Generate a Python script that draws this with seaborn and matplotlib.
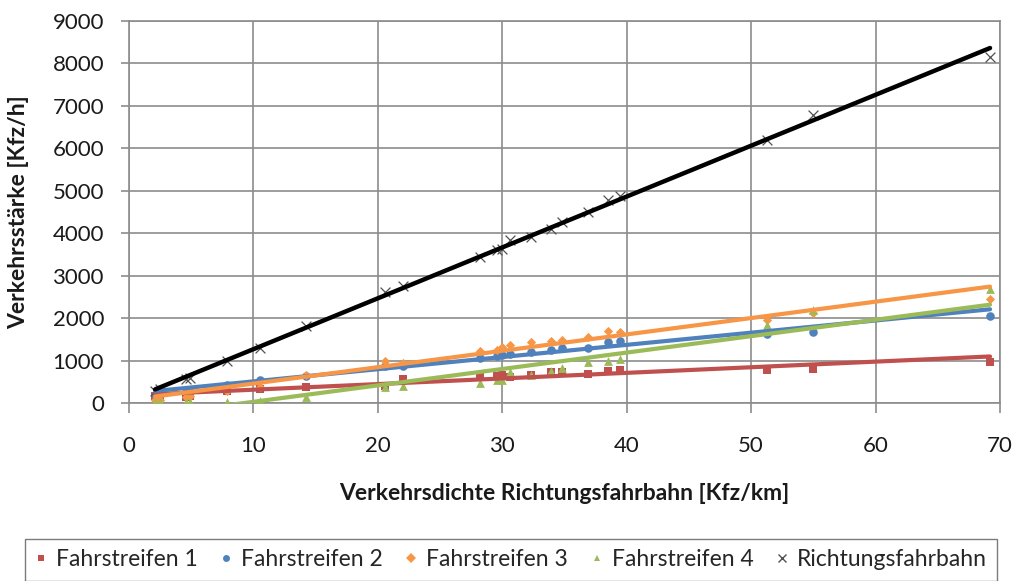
import numpy as np
import pandas as pd
import seaborn as sns
import matplotlib.pyplot as plt
from matplotlib.lines import Line2D

# Traffic density of the carriageway [Kfz/km]
dichte = [2.1, 2.5, 4.6, 4.9, 7.9, 10.5, 14.2, 20.6, 22.0, 28.2, 29.6,
          30.0, 30.6, 32.3, 33.9, 34.8, 36.9, 38.5, 39.5, 51.3, 55.0, 69.2]

# Traffic flow per lane and for the whole carriageway [Kfz/h]
fahrstreifen_1 = [157, 140, 150, 160, 275, 330, 377, 392, 560, 604, 644,
                  667, 604, 667, 722, 722, 683, 746, 768, 785, 801, 957]
fahrstreifen_2 = [196, 219, 270, 290, 431, 540, 640, 879, 870, 1060, 1099,
                  1138, 1154, 1201, 1256, 1296, 1296, 1428, 1452, 1633, 1680, 2057]
fahrstreifen_3 = [60, 80, 150, 172, 275, 380, 660, 980, 942, 1232, 1256,
                  1319, 1374, 1437, 1452, 1491, 1546, 1687, 1672, 1964, 2125, 2450]
fahrstreifen_4 = [16, 16, 16, 16, 16, 40, 149, 377, 392, 471, 550,
                  550, 730, 667, 760, 824, 958, 980, 1036, 1846, 2184, 2686]
richtungsfahrbahn = [290, 340, 570, 600, 980, 1300, 1805, 2606, 2764, 3450, 3596,
                     3628, 3848, 3911, 4099, 4256, 4492, 4791, 4870, 6204, 6793, 8144]

serien = ["Fahrstreifen 1", "Fahrstreifen 2", "Fahrstreifen 3",
          "Fahrstreifen 4", "Richtungsfahrbahn"]
werte = [fahrstreifen_1, fahrstreifen_2, fahrstreifen_3, fahrstreifen_4,
         richtungsfahrbahn]

x_ticks = [0, 10, 20, 30, 40, 50, 60, 70]
y_ticks = [0, 1000, 2000, 3000, 4000, 5000, 6000, 7000, 8000, 9000]

sns.set_theme(style="white")
plt.rcParams["font.family"] = ["Lato", "DejaVu Sans"]

# marker colour, line colour, marker, marker area, line width
stile = {
    "Fahrstreifen 1": ("#C0504D", "#C0504D", "s", 34, 3.0),
    "Fahrstreifen 2": ("#4F81BD", "#4F81BD", "o", 38, 3.0),
    "Fahrstreifen 3": ("#F79646", "#F79646", "D", 22, 3.0),
    "Fahrstreifen 4": ("#9BBB59", "#9BBB59", "^", 40, 3.0),
    "Richtungsfahrbahn": ("#505050", "#000000", "x", 50, 3.2),
}

df = pd.DataFrame({"dichte": dichte})
for name, w in zip(serien, werte):
    df[name] = w

fig = plt.figure(figsize=(10.16, 5.81), dpi=100)
ax = fig.add_axes([129 / 1016, 1 - 403 / 581, 871 / 1016, 382 / 581])

for name in serien:
    mc, lc, m, s, lw = stile[name]
    kws = dict(color=mc, s=s, zorder=3, alpha=1.0,
               linewidths=0.9 if m == "x" else 0)
    sns.regplot(data=df, x="dichte", y=name, ax=ax, ci=None, marker=m,
                scatter_kws=kws,
                line_kws=dict(color=lc, lw=lw, zorder=4))

ax.set_xlim(0, 70)
ax.set_ylim(0, 9000)
ax.set_xticks(x_ticks)
ax.set_yticks(y_ticks)
ax.grid(True, color="#8C8C8C", lw=1.2)
ax.set_axisbelow(True)
for sp in ax.spines.values():
    sp.set_color("#8C8C8C")
    sp.set_linewidth(1.2)
ax.tick_params(axis="both", which="both", direction="out", color="#8C8C8C",
               width=1.2, labelsize=16, labelcolor="#1a1a1a")
ax.tick_params(axis="x", length=7, pad=17)
ax.tick_params(axis="y", length=6, pad=12)
ax.tick_params(left=True, bottom=True)

ax.set_xlabel("Verkehrsdichte Richtungsfahrbahn [Kfz/km]", fontsize=16.5,
              fontweight="bold", color="#1a1a1a")
ax.set_ylabel("Verkehrsstärke [Kfz/h]", fontsize=16.5, fontweight="bold",
              color="#1a1a1a")
ax.xaxis.set_label_coords(0.5, -0.236)
ax.yaxis.set_label_coords(-0.127, 0.5)
ax.xaxis.label.set_va("center")
ax.yaxis.label.set_va("center")

handles = []
for name in serien:
    mc, lc, m, s, lw = stile[name]
    handles.append(Line2D([], [], ls="none", marker=m, color=mc,
                          markersize=5 if m != "x" else 6,
                          markeredgewidth=0 if m != "x" else 1.0))
leg = fig.legend(handles, serien, loc="center",
                 bbox_to_anchor=(511 / 1016, 1 - 560 / 581),
                 ncol=5, fontsize=16.5, frameon=True, fancybox=False,
                 handletextpad=0.4, columnspacing=1.0, handlelength=0.5,
                 borderpad=0.45, borderaxespad=0)
leg.get_frame().set_edgecolor("#5a5a5a")
leg.get_frame().set_linewidth(1.0)

fig.savefig("out.png", dpi=100)
